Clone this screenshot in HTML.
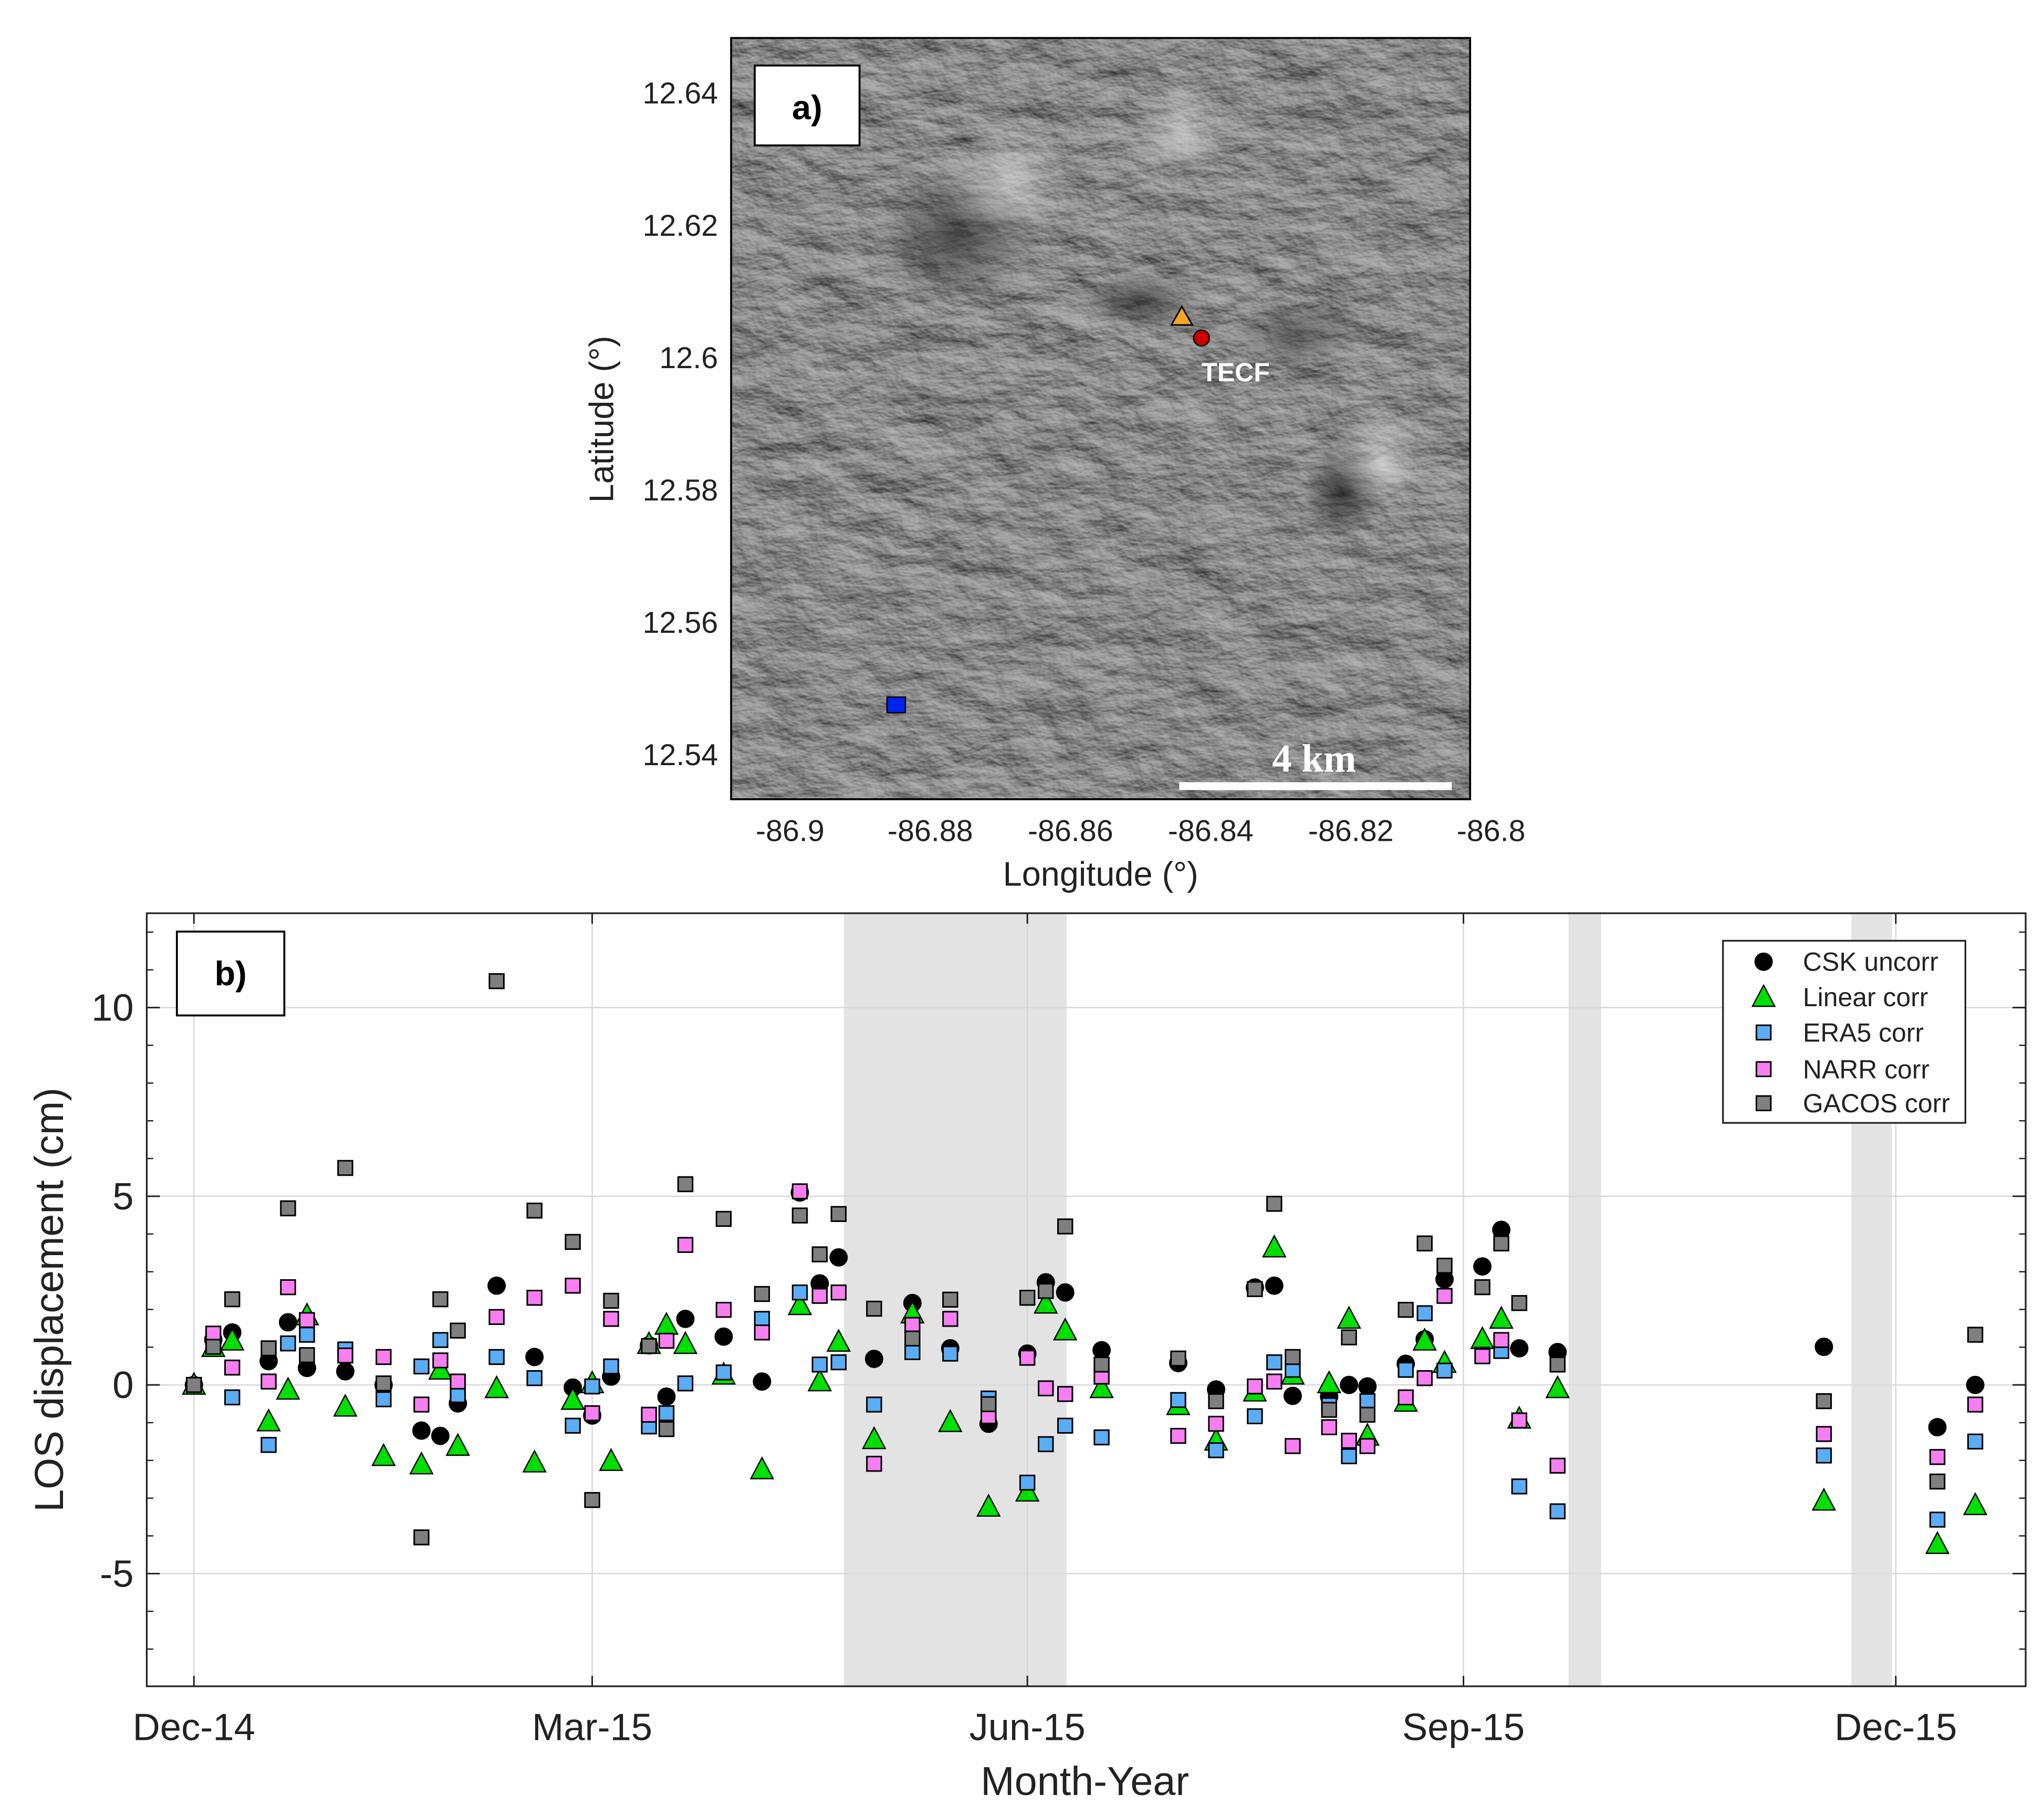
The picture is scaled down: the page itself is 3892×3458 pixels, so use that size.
<!DOCTYPE html>
<html><head><meta charset="utf-8"><title>LOS displacement</title>
<style>html,body{margin:0;padding:0;background:#fff;}svg{display:block;}</style></head>
<body>
<svg id="fig" xmlns="http://www.w3.org/2000/svg" width="3892" height="3458" viewBox="0 0 1560 1386" preserveAspectRatio="none" font-family="Liberation Sans, sans-serif">
<defs>
  <filter id="relief" x="0" y="0" width="100%" height="100%" color-interpolation-filters="sRGB">
    <feTurbulence type="fractalNoise" baseFrequency="0.02 0.035" numOctaves="5" seed="7" result="n"/>
    <feDiffuseLighting in="n" surfaceScale="4" lighting-color="#ffffff" diffuseConstant="1" result="l">
      <feDistantLight azimuth="300" elevation="50"/>
    </feDiffuseLighting>
    <feColorMatrix in="l" type="matrix" values="0.235 0.235 0.235 0 0  0.235 0.235 0.235 0 0  0.235 0.235 0.235 0 0  0 0 0 1 0"/>
  </filter>
  <radialGradient id="cone1" cx="0.5" cy="0.5" r="0.5"><stop offset="0" stop-color="#111" stop-opacity="0.75"/><stop offset="0.6" stop-color="#333" stop-opacity="0.3"/><stop offset="1" stop-color="#888" stop-opacity="0"/></radialGradient>
  <radialGradient id="cone2" cx="0.5" cy="0.5" r="0.5"><stop offset="0" stop-color="#eee" stop-opacity="0.6"/><stop offset="1" stop-color="#ccc" stop-opacity="0"/></radialGradient>
  <clipPath id="mapclip"><rect x="558" y="29" width="564" height="581"/></clipPath>
</defs>

<!-- Panel a: map -->
<g>
  <g clip-path="url(#mapclip)">
    <rect x="558" y="29" width="564" height="581" fill="#8b8b8b"/>
    <rect x="558" y="29" width="564" height="581" filter="url(#relief)"/>
    <ellipse cx="730" cy="180" rx="70" ry="60" fill="url(#cone1)" opacity="0.8"/>
    <ellipse cx="770" cy="140" rx="55" ry="45" fill="url(#cone2)"/>
    <ellipse cx="900" cy="100" rx="40" ry="40" fill="url(#cone2)"/>
    <ellipse cx="870" cy="230" rx="50" ry="25" fill="url(#cone1)" opacity="0.8"/>
    <ellipse cx="1025" cy="375" rx="35" ry="40" fill="url(#cone1)"/>
    <ellipse cx="1055" cy="350" rx="40" ry="40" fill="url(#cone2)"/>
    <ellipse cx="990" cy="255" rx="60" ry="30" fill="url(#cone1)" opacity="0.6"/>
  </g>
  <rect x="558" y="29" width="564" height="581" fill="none" stroke="#000" stroke-width="1.5"/>
  <rect x="576" y="50" width="80" height="61" fill="#fff" stroke="#000" stroke-width="1.5"/>
  <text x="616" y="91" font-size="26" font-weight="bold" text-anchor="middle">a)</text>
  <polygon points="902,234 894,248 910,248" fill="#f5a623" stroke="#000" stroke-width="1.2"/>
  <circle cx="917" cy="258" r="6" fill="#cc0000" stroke="#000" stroke-width="1"/>
  <text x="943" y="291" font-size="20" font-weight="bold" fill="#fff" text-anchor="middle">TECF</text>
  <rect x="677" y="532" width="14" height="12" fill="#0022ee" stroke="#000" stroke-width="1"/>
  <line x1="900" y1="600" x2="1108" y2="600" stroke="#fff" stroke-width="6"/>
  <text x="1003" y="589" font-size="30" font-weight="bold" fill="#fff" text-anchor="middle" font-family="Liberation Serif, serif">4 km</text>
  <g id="mapTicks" font-size="23" fill="#222"></g>
  <text x="840" y="676" font-size="26" text-anchor="middle" fill="#222">Longitude (°)</text>
  <text transform="translate(468,320) rotate(-90)" font-size="26" text-anchor="middle" fill="#222">Latitude (°)</text>
</g>

<!-- Panel b: chart -->
<g id="chart">
  <rect x="112" y="697" width="1434" height="590" fill="#fff"/>
  <g id="shades"></g>
  <g id="grid"></g>
  <g id="marks"></g>
  <rect x="112" y="697" width="1434" height="590" fill="none" stroke="#222" stroke-width="1.3"/>
  <g id="ticks" fill="#222"></g>
  <rect x="135" y="711" width="82" height="64" fill="#fff" stroke="#000" stroke-width="1.5"/>
  <text x="176" y="752" font-size="26" font-weight="bold" text-anchor="middle">b)</text>
  <text x="828" y="1370" font-size="31" text-anchor="middle" fill="#222">Month-Year</text>
  <text transform="translate(48,992) rotate(-90)" font-size="31" text-anchor="middle" fill="#222">LOS displacement (cm)</text>
  <g id="legend"></g>
</g>

<script>
// ---- map tick data ----
const latTicks = ["12.64","12.62","12.6","12.58","12.56","12.54"];
const latVals = [12.64,12.62,12.60,12.58,12.56,12.54];
const lonTicks = ["-86.9","-86.88","-86.86","-86.84","-86.82","-86.8"];
const lonVals = [-86.90,-86.88,-86.86,-86.84,-86.82,-86.80];

// ---- chart data ----
const tickLabels = ["Dec-14","Mar-15","Jun-15","Sep-15","Dec-15"];
const tickDays = [0, 84.2, 176.2, 268.4, 359.8];
const yTicks = [-5, 0, 5, 10];
const gapStart = [137.4, 290.6, 350.4];
const gapEnd = [184.5, 297.5, 359.0];
const days = [0,4.1,8.1,15.8,19.9,23.9,32.0,40.1,48.1,52.1,55.8,64.0,72.0,80.1,84.2,88.2,96.2,99.9,103.9,112.0,120.1,128.1,132.3,136.3,143.8,151.9,159.9,168.0,176.2,180.1,184.2,191.9,208.1,216.1,224.3,228.4,232.3,240.0,244.2,248.1,256.2,260.2,264.4,272.4,276.4,280.2,288.3,344.6,368.6,376.6];
const cskUncorr = [0,1.2,1.39,0.63,1.66,0.45,0.36,0.0,-1.21,-1.35,-0.49,2.63,0.74,-0.07,-0.81,0.22,1.05,-0.31,1.75,1.28,0.09,5.1,2.69,3.38,0.69,2.17,0.97,-1.03,0.83,2.72,2.45,0.92,0.58,-0.12,2.58,2.63,-0.29,-0.31,0.0,-0.04,0.56,1.21,2.80,3.14,4.11,0.97,0.87,1.01,-1.12,0.0];
const linearCorr = [0,1.0,1.17,-0.97,-0.13,1.84,-0.58,-1.89,-2.11,0.40,-1.62,-0.09,-2.06,-0.40,0.04,-2.02,1.08,1.59,1.08,0.27,-2.24,2.11,0.09,1.14,-1.44,1.89,-0.99,-3.23,-2.83,2.15,1.44,-0.09,-0.54,-1.48,-0.18,3.64,0.27,0.04,1.75,-1.35,-0.45,1.17,0.58,1.21,1.75,-0.90,-0.09,-3.07,-4.22,-3.19];
const era5Corr = [0,1.1,-0.33,-1.59,1.10,1.33,0.94,-0.38,0.49,1.19,-0.27,0.74,0.18,-1.08,-0.04,0.49,-1.10,-0.75,0.04,0.33,1.75,2.45,0.54,0.60,-0.52,0.87,0.83,-0.36,-2.59,-1.57,-1.08,-1.39,-0.40,-1.73,-0.83,0.60,0.40,-0.54,-1.89,-0.43,0.40,1.90,0.38,0.80,0.90,-2.69,-3.35,-1.87,-3.57,-1.50];
const narrCorr = [0,1.36,0.46,0.09,2.59,1.72,0.78,0.74,-0.52,0.65,0.09,1.80,2.31,2.63,-0.75,1.75,-0.79,1.17,3.71,1.99,1.39,5.13,2.36,2.45,-2.09,1.59,1.75,-0.83,0.72,-0.09,-0.24,0.22,-1.35,-1.03,-0.04,0.09,-1.62,-1.12,-1.48,-1.62,-0.33,0.18,2.36,0.76,1.19,-0.94,-2.14,-1.30,-1.91,-0.52];
const gacosCorr = [0,1.01,2.27,0.97,4.68,0.79,5.75,0.04,-4.04,2.27,1.44,10.7,4.62,3.79,-3.05,2.23,1.03,-1.17,5.32,4.40,2.41,4.49,3.46,4.53,2.02,1.23,2.26,-0.51,2.31,2.49,4.20,0.54,0.70,-0.43,2.54,4.80,0.74,-0.66,1.26,-0.79,1.99,3.75,3.16,2.59,3.75,2.17,0.54,-0.43,-2.56,1.33];
const seriesNames = ["CSK uncorr","Linear corr","ERA5 corr","NARR corr","GACOS corr"];

const NS = "http://www.w3.org/2000/svg";
function mk(tag, attrs, parent){ const e=document.createElementNS(NS,tag); for(const k in attrs) e.setAttribute(k,attrs[k]); parent.appendChild(e); return e; }

// map axes
const latY = v => 273 + (12.60 - v) * 5050;
const lonX = v => 924 + (v + 86.84) * 5350;
const mt = document.getElementById('mapTicks');
latVals.forEach((v,i)=>{
  const t = mk('text',{x:548,y:latY(v)+8,'text-anchor':'end'},mt); t.textContent=latTicks[i];
  
  
});
lonVals.forEach((v,i)=>{
  const t = mk('text',{x:lonX(v),y:642,'text-anchor':'middle'},mt); t.textContent=lonTicks[i];
  
  
});

// chart axes
const X0=112, X1=1546, Y0=697, Y1=1287;
const xS = d => 148 + d * 3.61;
const yS = v => 1057 - v * 28.8;
const shades = document.getElementById('shades');
gapStart.forEach((s,i)=>{
  const r = mk('rect',{x:xS(s),y:Y0,width:xS(gapEnd[i])-xS(s),height:Y1-Y0,fill:'#e3e3e3'},shades);
  
  
});
const grid = document.getElementById('grid');
const ticks = document.getElementById('ticks');
tickDays.forEach((d,i)=>{
  const l = mk('line',{x1:xS(d),x2:xS(d),y1:Y0,y2:Y1,stroke:'#d8d8d8','stroke-width':1},grid);
  
  
  mk('line',{x1:xS(d),x2:xS(d),y1:Y1,y2:Y1-8,stroke:'#222','stroke-width':1.2},ticks);
  mk('line',{x1:xS(d),x2:xS(d),y1:Y0,y2:Y0+8,stroke:'#222','stroke-width':1.2},ticks);
  const t = mk('text',{x:xS(d),y:1328,'text-anchor':'middle','font-size':29},ticks); t.textContent=tickLabels[i];
  
  
});
yTicks.forEach(v=>{
  const l = mk('line',{x1:X0,x2:X1,y1:yS(v),y2:yS(v),stroke:'#d8d8d8','stroke-width':1},grid);
  
  
  mk('line',{x1:X0,x2:X0+10,y1:yS(v),y2:yS(v),stroke:'#222','stroke-width':1.2},ticks);
  mk('line',{x1:X1,x2:X1-10,y1:yS(v),y2:yS(v),stroke:'#222','stroke-width':1.2},ticks);
  const t = mk('text',{x:102,y:yS(v)+10,'text-anchor':'end','font-size':29},ticks); t.textContent=String(v);
  
  
});
for(let v=-7; v<=12; v++){ if(v%5===0) continue;
  mk('line',{x1:X0,x2:X0+5,y1:yS(v),y2:yS(v),stroke:'#222','stroke-width':1},ticks);
  mk('line',{x1:X1,x2:X1-5,y1:yS(v),y2:yS(v),stroke:'#222','stroke-width':1},ticks);
}

// markers
const marks = document.getElementById('marks');
function circle(g,x,y){ return mk('circle',{cx:x,cy:y,r:6.5,fill:'#000',stroke:'#000','stroke-width':1},g); }
function tri(g,x,y,c){ return mk('polygon',{points:`${x},${y-9} ${x-8.5},${y+7} ${x+8.5},${y+7}`,fill:c,stroke:'#000','stroke-width':1},g); }
function sq(g,x,y,c){ return mk('rect',{x:x-5.5,y:y-5.5,width:11,height:11,fill:c,stroke:'#000','stroke-width':1.2},g); }
const gC = mk('g',{},marks);


days.forEach((d,i)=>{ const e=circle(gC,xS(d),yS(cskUncorr[i]));
  
   });
const gL = mk('g',{},marks);


days.forEach((d,i)=>{ const e=tri(gL,xS(d),yS(linearCorr[i]),'#00e000');
  
   });
const gE = mk('g',{},marks);


days.forEach((d,i)=>{ const e=sq(gE,xS(d),yS(era5Corr[i]),'#5aacf5');
  
   });
const gN = mk('g',{},marks);


days.forEach((d,i)=>{ const e=sq(gN,xS(d),yS(narrCorr[i]),'#f77ef0');
  
   });
const gG = mk('g',{},marks);


days.forEach((d,i)=>{ const e=sq(gG,xS(d),yS(gacosCorr[i]),'#7f7f7f');
  
   });

// legend
const lg = document.getElementById('legend');
mk('rect',{x:1315,y:718,width:185,height:139,fill:'#fff',stroke:'#222','stroke-width':1.3},lg);
const legY = [734,761,788,816,842];
seriesNames.forEach((n,i)=>{
  const y = legY[i];
  let m;
  if(i===0) m=circle(lg,1346,y);
  else if(i===1) m=tri(lg,1346,y,'#00e000');
  else m=sq(lg,1346,y,['','', '#5aacf5','#f77ef0','#7f7f7f'][i]);
  
  
  const t = mk('text',{x:1376,y:y+7,'font-size':20,fill:'#222'},lg); t.textContent=n;
  
  
});
</script>
</svg>
</body></html>
